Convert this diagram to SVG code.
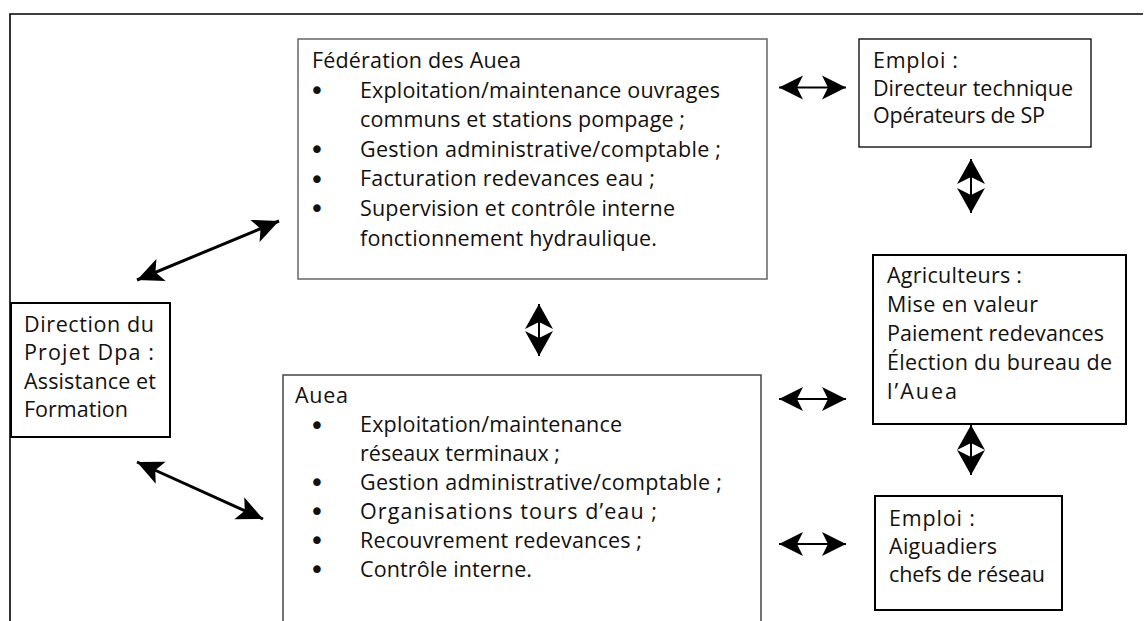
<svg xmlns="http://www.w3.org/2000/svg" width="1146" height="621" viewBox="0 0 1146 621">
<style>
  text { font-family: "Open Sans", "Noto Sans", "DejaVu Sans", sans-serif; font-size: 21.5px; fill: #111; }
  text.bul { font-family: "DejaVu Sans", sans-serif; font-size: 26px; text-anchor: middle; }
  .box { fill: #fff; stroke: #000; }
  .grey { fill: #fff; stroke: #666; stroke-width: 1.5; }
  .thick { stroke-width: 2; }
  .thin { stroke-width: 1.3; }
  .conn line { stroke: #000; fill: none; }
  .diag { stroke-width: 3; }
  .hz { stroke-width: 2; }
</style>
<defs>
  <marker id="hd" markerUnits="userSpaceOnUse" markerWidth="26" markerHeight="24" refX="26" refY="12" orient="auto-start-reverse" overflow="visible">
    <path d="M26,12 L0,0 L6,12 L0,24 Z" fill="#000"/>
  </marker>
  <marker id="hs" markerUnits="userSpaceOnUse" markerWidth="24" markerHeight="24" refX="24" refY="12" orient="auto-start-reverse" overflow="visible">
    <path d="M24,12 L0,0 L6,12 L0,24 Z" fill="#000"/>
  </marker>
  <marker id="hv" markerUnits="userSpaceOnUse" markerWidth="25" markerHeight="28" refX="25" refY="14" orient="auto-start-reverse" overflow="visible">
    <path d="M25,14 L0,0 L7,14 L0,28 Z" fill="#000"/>
  </marker>
</defs>
<rect x="0" y="0" width="1146" height="621" fill="#fff"/>

<g id="frame" fill="none" stroke="#000" stroke-width="1.6">
  <path d="M10,625 V14 H1143"/>
</g>

<g id="federation">
  <rect class="grey" x="298" y="39" width="469" height="240"/>
  <text x="312" y="68" textLength="209">Fédération des Auea</text>
  <text class="bul" x="317" y="100">•</text>
  <text x="360" y="97.6" textLength="360">Exploitation/maintenance ouvrages</text>
  <text x="360" y="127.2" textLength="325">communs et stations pompage ;</text>
  <text class="bul" x="317" y="159.2">•</text>
  <text x="360" y="156.8" textLength="361">Gestion administrative/comptable ;</text>
  <text class="bul" x="317" y="188.8">•</text>
  <text x="360" y="186.4" textLength="295">Facturation redevances eau ;</text>
  <text class="bul" x="317" y="218.4">•</text>
  <text x="360" y="216" textLength="315">Supervision et contrôle interne</text>
  <text x="360" y="245.6" textLength="297">fonctionnement hydraulique.</text>
</g>

<g id="auea">
  <rect class="grey" x="283" y="375" width="478" height="260" style="stroke:#444"/>
  <text x="295" y="403.3" textLength="53">Auea</text>
  <text class="bul" x="317" y="434.6">•</text>
  <text x="360" y="432.2" textLength="262">Exploitation/maintenance</text>
  <text x="360" y="461.1" textLength="200">réseaux terminaux ;</text>
  <text class="bul" x="317" y="492.4">•</text>
  <text x="360" y="490" textLength="362">Gestion administrative/comptable ;</text>
  <text class="bul" x="317" y="521.3">•</text>
  <text x="360" y="518.9" textLength="297">Organisations tours d’eau ;</text>
  <text class="bul" x="317" y="550.2">•</text>
  <text x="360" y="547.8" textLength="282">Recouvrement redevances ;</text>
  <text class="bul" x="317" y="579.1">•</text>
  <text x="360" y="576.7" textLength="172">Contrôle interne.</text>
</g>

<g id="emploi-technique">
  <rect class="box thin" x="859" y="39" width="232" height="108"/>
  <text x="873" y="67.5" textLength="85">Emploi :</text>
  <text x="873" y="95.5" textLength="200">Directeur technique</text>
  <text x="873" y="123" textLength="172">Opérateurs de SP</text>
</g>

<g id="agriculteurs">
  <rect class="box thick" x="873" y="255" width="253" height="169"/>
  <text x="887" y="283.3" textLength="135">Agriculteurs :</text>
  <text x="887" y="312.3" textLength="151">Mise en valeur</text>
  <text x="887" y="341.3" textLength="217">Paiement redevances</text>
  <text x="887" y="370.3" textLength="225">Élection du bureau de</text>
  <text x="887" y="399.3" textLength="70">l’Auea</text>
</g>

<g id="emploi-aiguadiers">
  <rect class="box thick" x="875" y="496" width="187" height="114"/>
  <text x="889" y="526" textLength="86">Emploi :</text>
  <text x="889" y="554" textLength="108">Aiguadiers</text>
  <text x="889" y="582.3" textLength="156">chefs de réseau</text>
</g>

<g id="direction">
  <rect class="box thick" x="11" y="303" width="159" height="134"/>
  <text x="24" y="331.7" textLength="130">Direction du</text>
  <text x="24" y="360" textLength="130">Projet Dpa :</text>
  <text x="24" y="388.6" textLength="132">Assistance et</text>
  <text x="24" y="416.9" textLength="104">Formation</text>
</g>

<g id="connectors" class="conn">
  <line class="diag" x1="137" y1="280" x2="279" y2="221" marker-start="url(#hd)" marker-end="url(#hd)"/>
  <line class="diag" x1="137" y1="462" x2="263" y2="519" marker-start="url(#hd)" marker-end="url(#hd)"/>
  <line class="hz" x1="779" y1="87.5" x2="846" y2="87.5" marker-start="url(#hs)" marker-end="url(#hs)"/>
  <line class="hz" x1="779" y1="399" x2="846" y2="399" marker-start="url(#hs)" marker-end="url(#hs)"/>
  <line class="hz" x1="779" y1="544" x2="846" y2="544" marker-start="url(#hs)" marker-end="url(#hs)"/>
  <line class="hz" x1="971" y1="159" x2="971" y2="213" marker-start="url(#hv)" marker-end="url(#hv)"/>
  <line class="hz" x1="539" y1="304" x2="539" y2="356" marker-start="url(#hv)" marker-end="url(#hv)"/>
  <line class="hz" x1="971" y1="425" x2="971" y2="475" marker-start="url(#hv)" marker-end="url(#hv)"/>
</g>
</svg>
